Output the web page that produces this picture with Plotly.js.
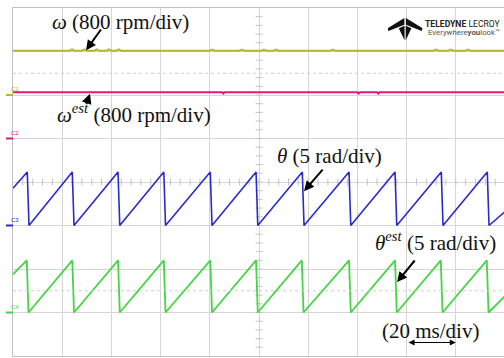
<!DOCTYPE html>
<html>
<head>
<meta charset="utf-8">
<script src="https://cdn.plot.ly/plotly-3.0.1.min.js"></script>
<style>
html,body{margin:0;padding:0;background:#fff;overflow:hidden;width:504px;height:358px;}
#chart{width:505px;height:358px;}
</style>
</head>
<body>
<div id="chart"></div>
<script>
// ---- data (time in ms) ----
const omegaT   = [0, 23, 24, 25, 28, 29, 30, 33, 34, 35, 38, 39, 40, 42, 43, 44, 80, 81, 82, 92, 93, 94, 101, 102, 103, 106, 107, 108, 129, 130, 131, 171, 172, 173, 177, 178, 179, 184, 185, 186, 200];
const omegaRpm = [815, 815, 838, 815, 815, 838, 815, 815, 838, 815, 815, 838, 815, 815, 838, 815, 815, 836, 815, 815, 836, 815, 815, 836, 815, 815, 836, 815, 815, 836, 815, 815, 836, 815, 815, 836, 815, 815, 836, 815, 815];

const omegaEstT   = [0, 85, 85.5, 86, 140, 140.5, 141, 148, 148.5, 149, 200];
const omegaEstRpm = [850, 850, 826, 850, 850, 826, 850, 850, 826, 850, 850];

const thetaT   = [0, 5.8, 6.5, 24.1, 24.8, 42.7, 43.4, 61.3, 62.0, 80.2, 80.9, 98.8, 99.5, 117.6, 118.3, 136.6, 137.3, 155.3, 156.0, 174.1, 174.8, 192.8, 193.5, 200];
const thetaRad = [4.28, 6.15, 0, 6.15, 0, 6.15, 0, 6.15, 0, 6.15, 0, 6.15, 0, 6.15, 0, 6.15, 0, 6.15, 0, 6.15, 0, 6.15, 0, 1.6];

const thetaEstT   = [0, 5.6, 6.3, 24.1, 24.8, 42.7, 43.4, 61.3, 62.0, 80.2, 80.9, 98.8, 99.5, 117.4, 118.1, 136.6, 137.3, 155.3, 156.0, 173.9, 174.6, 192.6, 193.3, 200];
const thetaEstRad = [4.39, 6.0, 0, 6.0, 0, 6.0, 0, 6.0, 0, 6.0, 0, 6.0, 0, 6.0, 0, 6.0, 0, 6.0, 0, 6.0, 0, 6.0, 0, 1.9];

// channel settings: offset (div), scale (units/div)
const channels = {
  C1: {off: 2,  scale: 800, color: '#b3b82c'},
  C2: {off: 1,  scale: 800, color: '#e8157d'},
  C3: {off: -1, scale: 5,   color: '#2a2acb'},
  C4: {off: -3, scale: 5,   color: '#44d644'}
};
function chRange(c){ return [(-4 - c.off) * c.scale, (4 - c.off) * c.scale]; }

// center graticule ticks
const tickHX = [], tickHY = [], tickVX = [], tickVY = [];
for (let i = 1; i < 50; i++) { tickHX.push(i * 4); tickHY.push(0); }
for (let i = -19; i < 20; i++) { tickVX.push(100); tickVY.push(i * 0.2); }

const traces = [
  {x: tickHX, y: tickHY, xaxis: 'x', yaxis: 'y', mode: 'markers', hoverinfo: 'skip',
   marker: {symbol: 'line-ns', size: 5, line: {width: 1, color: '#c4c4c4'}}},
  {x: tickVX, y: tickVY, xaxis: 'x', yaxis: 'y', mode: 'markers', hoverinfo: 'skip',
   marker: {symbol: 'line-ew', size: 5, line: {width: 1, color: '#c4c4c4'}}},
  {x: omegaT, y: omegaRpm, yaxis: 'y2', mode: 'lines', line: {color: channels.C1.color, width: 2}},
  {x: omegaEstT, y: omegaEstRpm, yaxis: 'y3', mode: 'lines', line: {color: channels.C2.color, width: 2}},
  {x: thetaT, y: thetaRad, yaxis: 'y4', mode: 'lines', line: {color: channels.C3.color, width: 1.6}},
  {x: thetaEstT, y: thetaEstRad, yaxis: 'y5', mode: 'lines', line: {color: channels.C4.color, width: 1.8}}
];

const hidden = {overlaying: 'y', visible: false, fixedrange: true};
const serif = {family: '"Liberation Serif", "Times New Roman", serif', size: 21, color: '#111'};
const logoFont = '"Roboto", "Liberation Sans", sans-serif';

const annotations = [
  {text: '<i>ω</i> (800 rpm/div)', x: 15.0, y: 3.67, xref: 'x', yref: 'y', xanchor: 'left', showarrow: false, font: serif},
  {text: '<i>ω</i><sup><i>est</i></sup> (800 rpm/div)', x: 17.1, y: 1.57, xref: 'x', yref: 'y', xanchor: 'left', showarrow: false, font: serif},
  {text: '<i>θ</i> (5 rad/div)', x: 128.5, y: 0.60, xref: 'x', yref: 'y', showarrow: false, font: serif},
  {text: '<i>θ</i><sup><i>est</i></sup> (5 rad/div)', x: 171.9, y: -1.36, xref: 'x', yref: 'y', showarrow: false, font: serif},
  {text: '(20 ms/div)', x: 169.9, y: -3.43, xref: 'x', yref: 'y', showarrow: false, font: serif},
  // arrows
  {text: '', x: 29.7, y: 3.03, ax: 36.2, ay: 3.54, xref: 'x', yref: 'y', axref: 'x', ayref: 'y',
   showarrow: true, arrowhead: 2, arrowsize: 1, arrowwidth: 2, arrowcolor: '#000'},
  {text: '', x: 31.3, y: 2.03, ax: 29.6, ay: 1.76, xref: 'x', yref: 'y', axref: 'x', ayref: 'y',
   showarrow: true, arrowhead: 2, arrowsize: 1, arrowwidth: 2, arrowcolor: '#000'},
  {text: '', x: 118.3, y: -0.21, ax: 126.4, ay: 0.32, xref: 'x', yref: 'y', axref: 'x', ayref: 'y',
   showarrow: true, arrowhead: 2, arrowsize: 1, arrowwidth: 2, arrowcolor: '#000'},
  {text: '', x: 156.1, y: -2.30, ax: 163.8, ay: -1.77, xref: 'x', yref: 'y', axref: 'x', ayref: 'y',
   showarrow: true, arrowhead: 2, arrowsize: 1, arrowwidth: 2, arrowcolor: '#000'},
  {text: '', x: 180, y: -3.69, ax: 160.2, ay: -3.69, xref: 'x', yref: 'y', axref: 'x', ayref: 'y',
   showarrow: true, arrowhead: 2, startarrowhead: 2, arrowside: 'end+start', arrowsize: 1.2, arrowwidth: 1, arrowcolor: '#000'},
  // logo text
  {text: '<b>TELEDYNE</b> LECROY', x: 200, xshift: -2, y: 3.64, xref: 'x', yref: 'y', xanchor: 'right', showarrow: false,
   font: {family: logoFont, size: 8.6, color: '#222'}},
  {text: 'Everywhere<b>you</b>look™', x: 200, xshift: -3, y: 3.43, xref: 'x', yref: 'y', xanchor: 'right', showarrow: false,
   font: {family: logoFont, size: 7.8, color: '#555'}}
];

const shapes = [
  {type: 'line', xref: 'paper', x0: 0, x1: 1, yref: 'y', y0: 2.5, y1: 2.5, line: {color: '#cfcfcf', width: 1, dash: 'dot'}},
  {type: 'line', xref: 'paper', x0: 0, x1: 1, yref: 'y', y0: -2.5, y1: -2.5, line: {color: '#cfcfcf', width: 1, dash: 'dot'}}
];
const axisRefs = {C1: 'y2', C2: 'y3', C3: 'y4', C4: 'y5'};
Object.keys(channels).forEach(k => {
  const c = channels[k];
  shapes.push({type: 'line', xref: 'paper', x0: -7 / 492, x1: 0, yref: axisRefs[k], y0: 0, y1: 0,
               line: {color: c.color, width: 2}});
  annotations.push({text: k, xref: 'paper', x: -4 / 492, yref: axisRefs[k], y: 0, yshift: 6, showarrow: false,
                    font: {family: 'Liberation Sans, sans-serif', size: 6, color: c.color}});
});

// Teledyne icon as inline SVG
const svg = '<svg xmlns="http://www.w3.org/2000/svg" viewBox="0 0 36 23" preserveAspectRatio="none">' +
  '<path d="M17.2,0 L0,10.5 L0.8,13.5 L17.2,7 Z" fill="#111"/>' +
  '<path d="M18.8,0 L36,10.5 L35.2,13.5 L18.8,7 Z" fill="#111"/>' +
  '<path d="M17.4,8 L11.5,10.5 L17.4,23 Z" fill="#111"/>' +
  '<path d="M18.6,8 L24.5,10.5 L18.6,23 Z" fill="#111"/>' +
  '</svg>';
const images = [{source: 'data:image/svg+xml;base64,' + btoa(svg), xref: 'x', yref: 'y',
  x: 152.3, y: 3.77, sizex: 14.2, sizey: 0.51, sizing: 'stretch', xanchor: 'left', yanchor: 'top', layer: 'above'}];

const layout = {
  width: 505, height: 358,
  margin: {l: 13, r: 0, t: 8, b: 2},
  paper_bgcolor: '#fff', plot_bgcolor: '#fff',
  showlegend: false, hovermode: false,
  xaxis: {range: [0, 200], tick0: 0, dtick: 20, showticklabels: false, ticks: '',
          showgrid: true, gridcolor: '#d6d6d6', gridwidth: 1, zeroline: false,
          showline: true, linecolor: '#c2c2c2', linewidth: 1, mirror: true, fixedrange: true},
  yaxis: {range: [-4, 4], tick0: 0, dtick: 1, showticklabels: false, ticks: '',
          showgrid: true, gridcolor: '#d6d6d6', gridwidth: 1, zeroline: false,
          showline: true, linecolor: '#c2c2c2', linewidth: 1, mirror: true, fixedrange: true},
  yaxis2: Object.assign({range: chRange(channels.C1)}, hidden),
  yaxis3: Object.assign({range: chRange(channels.C2)}, hidden),
  yaxis4: Object.assign({range: chRange(channels.C3)}, hidden),
  yaxis5: Object.assign({range: chRange(channels.C4)}, hidden),
  annotations: annotations,
  shapes: shapes,
  images: images
};

Plotly.newPlot('chart', traces, layout, {displayModeBar: false, staticPlot: true});
</script>
</body>
</html>
